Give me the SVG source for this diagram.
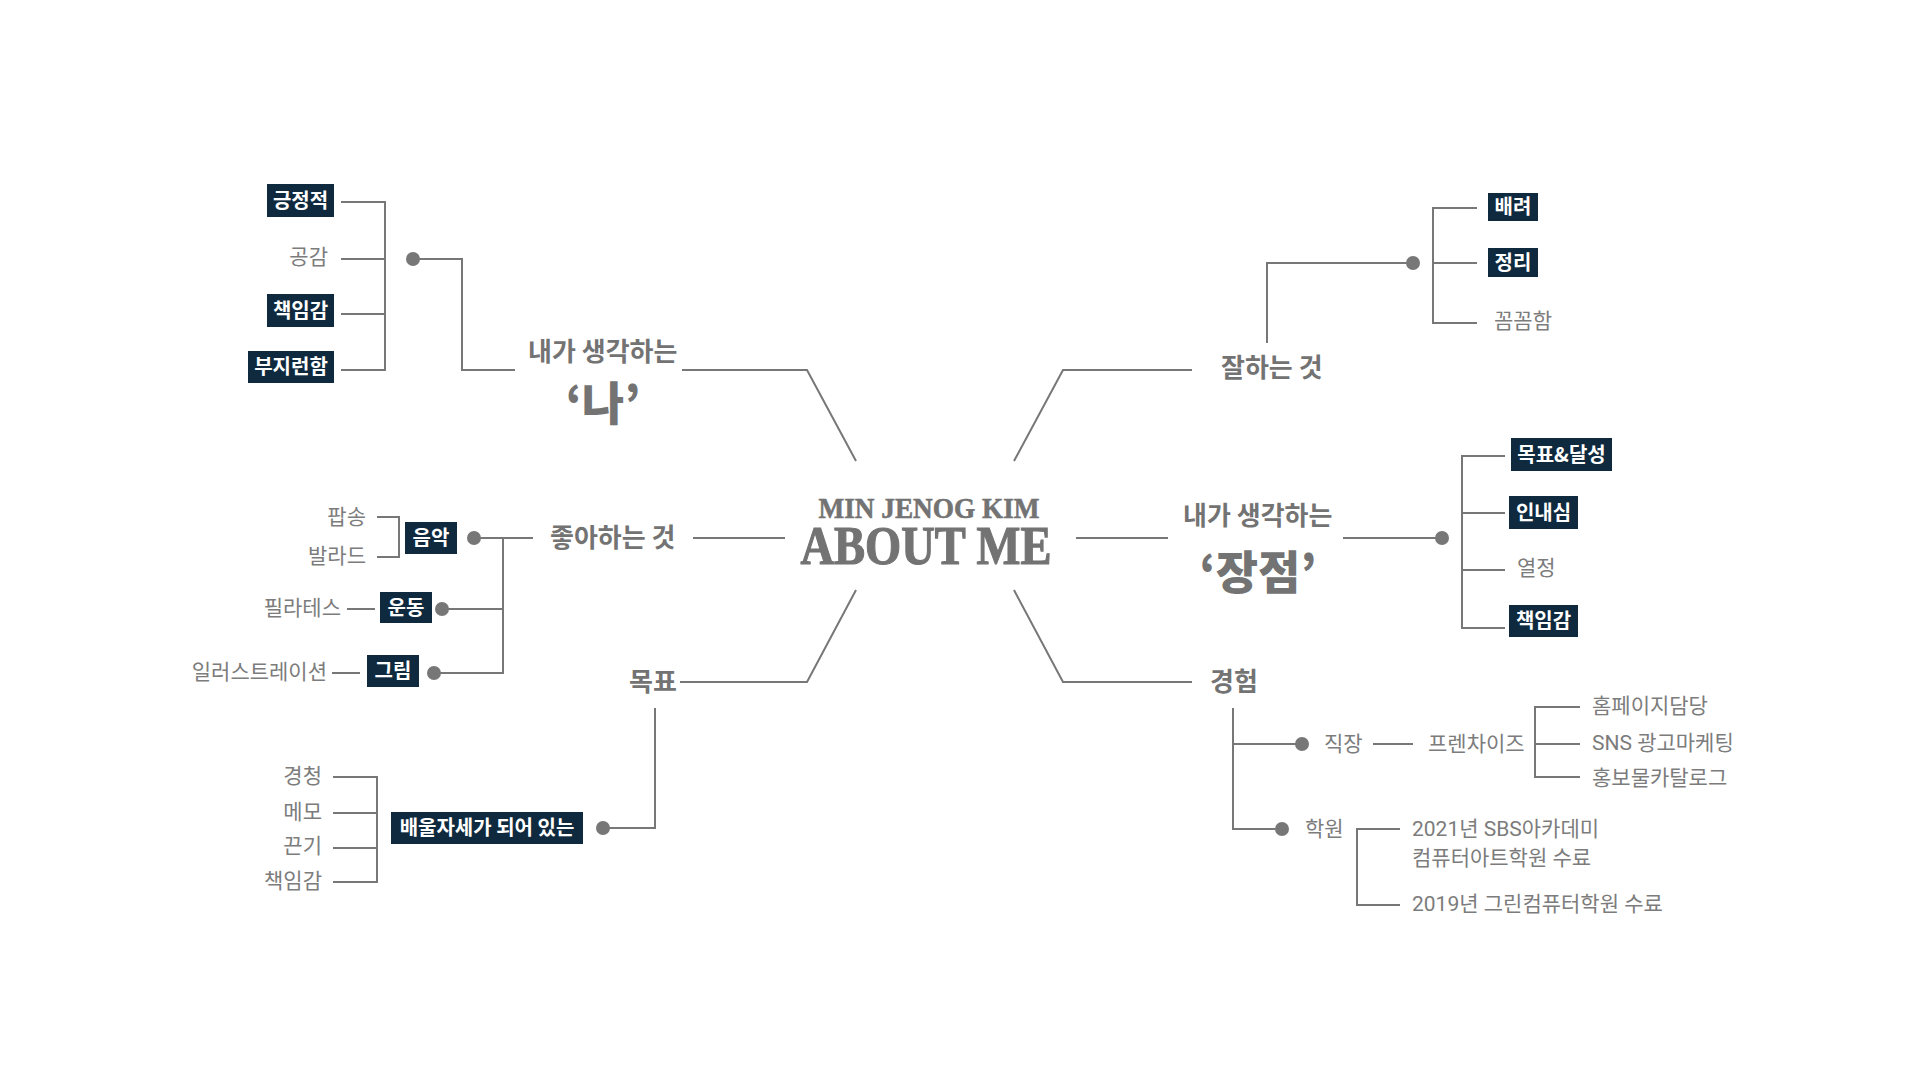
<svg xmlns="http://www.w3.org/2000/svg" width="1920" height="1080" viewBox="0 0 1920 1080">
<style>
.ln{stroke:#777;stroke-width:2;fill:none}
.dot{fill:#777}
.box{fill:#0f2a3e}
.bt{font-family:"Noto Sans CJK KR","Noto Sans",sans-serif;font-size:20px;font-weight:bold;fill:#fff;text-anchor:middle}
.st{font-family:Roboto,"Noto Sans CJK KR",sans-serif;font-size:21px;fill:#7c7c7c}
.mt{font-family:"Noto Sans CJK KR","Noto Sans",sans-serif;font-size:26px;font-weight:bold;fill:#737373}
.qt{font-family:"Noto Sans CJK KR","Noto Sans",sans-serif;font-size:46px;font-weight:900;fill:#737373;text-anchor:middle}
.e{text-anchor:end}
.ser{font-family:"Liberation Serif","DejaVu Serif",serif;font-weight:bold;fill:#737373;stroke:#737373}
</style>
<rect width="1920" height="1080" fill="#fff"/>
<g id="connectors">
<path class="ln" d="M682 370H807L856 461"/>
<path class="ln" d="M1014 461L1063 370H1192"/>
<path class="ln" d="M1076 538H1168"/>
<path class="ln" d="M693 538H785"/>
<path class="ln" d="M856 590L807 682H680"/>
<path class="ln" d="M1014 590L1063 682H1192"/>
<path class="ln" d="M515 370H462V259H413"/>
<path class="ln" d="M341 202H385V370H341M341 259H385M341 314H385"/>
<path class="ln" d="M1267 343V263H1413"/>
<path class="ln" d="M1477 208H1433V323H1477M1433 263H1477"/>
<path class="ln" d="M1343 538H1442"/>
<path class="ln" d="M1505 456H1462V628H1505M1462 513H1505M1462 570H1505"/>
<path class="ln" d="M474 538H533"/>
<path class="ln" d="M503 538V673H434M442 609H503"/>
<path class="ln" d="M377 517H399V557H377"/>
<path class="ln" d="M347 609H375"/>
<path class="ln" d="M332 673H360"/>
<path class="ln" d="M655 708V828H603"/>
<path class="ln" d="M333 777H377V882H333M333 813H377M333 848H377"/>
<path class="ln" d="M1233 708V829H1282M1233 744H1302"/>
<path class="ln" d="M1373 744H1413"/>
<path class="ln" d="M1580 707H1535V777H1580M1535 744H1580"/>
<path class="ln" d="M1400 829H1357V905H1400"/>
<circle class="dot" cx="413" cy="259" r="7"/>
<circle class="dot" cx="1413" cy="263" r="7"/>
<circle class="dot" cx="1442" cy="538" r="7"/>
<circle class="dot" cx="474" cy="538" r="7"/>
<circle class="dot" cx="442" cy="609" r="7"/>
<circle class="dot" cx="434" cy="673" r="7"/>
<circle class="dot" cx="603" cy="828" r="7"/>
<circle class="dot" cx="1302" cy="744" r="7"/>
<circle class="dot" cx="1282" cy="829" r="7"/>
</g>
<g id="center">
<text class="ser" x="929" y="518" font-size="30" stroke-width="0.6" text-anchor="middle" textLength="221" lengthAdjust="spacingAndGlyphs">MIN JENOG KIM</text>
<text class="ser" x="926" y="564" font-size="54" stroke-width="1.2" text-anchor="middle" textLength="251" lengthAdjust="spacingAndGlyphs">ABOUT ME</text>
</g>
<g id="node-na">
<text class="mt" x="528" y="361">내가 생각하는</text>
<text class="qt" x="603" y="420">‘나’</text>
</g>
<g id="node-na-items">
<rect class="box" x="267" y="184" width="67" height="33"/><text class="bt" x="300.5" y="208">긍정적</text>
<text class="st e" x="328" y="264">공감</text>
<rect class="box" x="267" y="294" width="67" height="33"/><text class="bt" x="300.5" y="318">책임감</text>
<rect class="box" x="248" y="351" width="86" height="32"/><text class="bt" x="291" y="374">부지런함</text>
</g>
<g id="node-skill">
<text class="mt" x="1221" y="377">잘하는 것</text>
<rect class="box" x="1488" y="193" width="50" height="28"/><text class="bt" x="1513" y="214">배려</text>
<rect class="box" x="1488" y="248" width="50" height="29"/><text class="bt" x="1513" y="270">정리</text>
<text class="st" x="1494" y="328">꼼꼼함</text>
</g>
<g id="node-strength">
<text class="mt" x="1183" y="525">내가 생각하는</text>
<text class="qt" x="1258" y="589">‘장점’</text>
<rect class="box" x="1511" y="438" width="101" height="33"/><text class="bt" x="1561.5" y="462">목표&amp;달성</text>
<rect class="box" x="1509" y="496" width="69" height="33"/><text class="bt" x="1543.5" y="520">인내심</text>
<text class="st" x="1517" y="575">열정</text>
<rect class="box" x="1509" y="605" width="69" height="32"/><text class="bt" x="1543.5" y="628">책임감</text>
</g>
<g id="node-like">
<text class="mt" x="550" y="547">좋아하는 것</text>
<rect class="box" x="405" y="522" width="52" height="32"/><text class="bt" x="431" y="545">음악</text>
<text class="st e" x="366" y="524">팝송</text>
<text class="st e" x="366" y="563">발라드</text>
<rect class="box" x="380" y="592" width="52" height="31"/><text class="bt" x="406" y="615">운동</text>
<text class="st e" x="341" y="615">필라테스</text>
<rect class="box" x="367" y="655" width="52" height="32"/><text class="bt" x="393" y="678">그림</text>
<text class="st e" x="327" y="679">일러스트레이션</text>
</g>
<g id="node-goal">
<text class="mt" x="629" y="691">목표</text>
<rect class="box" x="391" y="812" width="192" height="32"/><text class="bt" x="487" y="835">배울자세가 되어 있는</text>
<text class="st e" x="322" y="783">경청</text>
<text class="st e" x="322" y="819">메모</text>
<text class="st e" x="322" y="853">끈기</text>
<text class="st e" x="322" y="888">책임감</text>
</g>
<g id="node-exp">
<text class="mt" x="1210" y="691">경험</text>
<text class="st" x="1324" y="751">직장</text>
<text class="st" x="1428" y="751">프렌차이즈</text>
<text class="st" x="1592" y="713">홈페이지담당</text>
<text class="st" x="1592" y="750">SNS 광고마케팅</text>
<text class="st" x="1592" y="785">홍보물카탈로그</text>
<text class="st" x="1305" y="836">학원</text>
<text class="st" x="1412" y="836">2021년 SBS아카데미</text>
<text class="st" x="1412" y="865">컴퓨터아트학원 수료</text>
<text class="st" x="1412" y="911">2019년 그린컴퓨터학원 수료</text>
</g>
</svg>
